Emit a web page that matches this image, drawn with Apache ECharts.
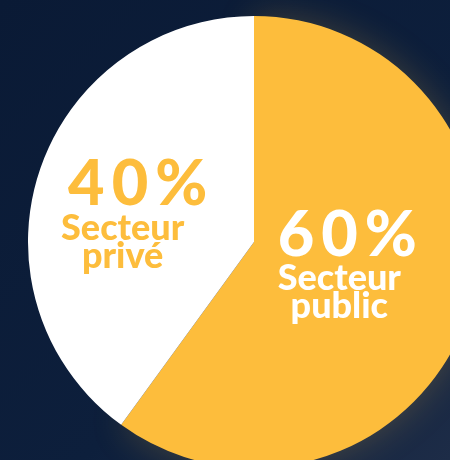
<!DOCTYPE html>
<html>
<head>
<meta charset="utf-8">
<script src="https://cdn.jsdelivr.net/npm/echarts@6/dist/echarts.min.js"></script>
<style>
  html, body { margin: 0; padding: 0; background: #0c1c38; }
  #chart { width: 450px; height: 460px; }
</style>
</head>
<body>
<div id="chart"></div>
<script>
// Répartition secteur public / secteur privé
const sectors = ['Secteur\npublic', 'Secteur\nprivé'];
const shares = [60, 40];

const YELLOW = '#fdbd3c';
const WHITE = '#ffffff';
const sliceColors = [YELLOW, WHITE];
const labelColors = [WHITE, YELLOW];
// nudges applied to the inside labels (px) and left pad of the percentage line
const labelNudge = [[-25, -14], [-21, 7]];
const pctPad = [16, 30];

const chart = echarts.init(document.getElementById('chart'), null, { renderer: 'canvas' });

const data = sectors.map((name, i) => {
  const pctStyle = {
    fontFamily: 'Lato', fontWeight: 900, fontSize: 63,
    color: labelColors[i], lineHeight: 58
  };
  return {
    name,
    value: shares[i],
    itemStyle: {
      color: sliceColors[i],
      shadowColor: i === 0 ? 'rgba(253,189,60,0.22)' : 'rgba(0,0,0,0)',
      shadowBlur: i === 0 ? 36 : 0
    },
    label: {
      rich: {
        pad: Object.assign({}, pctStyle, { padding: [0, 0, 0, pctPad[i]] }),
        c: Object.assign({}, pctStyle, { padding: [0, 7, 0, 0] }),
        last: pctStyle,
        txt: {
          fontFamily: 'Lato', fontWeight: 900, fontSize: 36,
          color: labelColors[i], lineHeight: 28
        }
      }
    }
  };
});

chart.setOption({
  backgroundColor: {
    type: 'linear', x: 0, y: 0, x2: 1, y2: 1,
    colorStops: [
      { offset: 0, color: '#0a1a35' },
      { offset: 0.6, color: '#0d1f3c' },
      { offset: 1, color: '#1d2c47' }
    ]
  },
  animation: false,
  series: [{
    type: 'pie',
    center: [254, 242],
    radius: 226,
    startAngle: 90,
    clockwise: true,
    silent: true,
    data,
    label: {
      show: true,
      position: 'inside',
      align: 'center',
      formatter: (p) => {
        const chars = (p.value + '%').split('');
        const pct = '{pad|}' + chars.map((ch, k) =>
          (k < chars.length - 1 ? '{c|' : '{last|') + ch + '}').join('');
        const lines = p.name.split('\n').map(s => '{txt|' + s + '}').join('\n');
        return pct + '\n' + lines;
      }
    },
    labelLine: { show: false },
    labelLayout: (params) => ({
      dx: labelNudge[params.dataIndex][0],
      dy: labelNudge[params.dataIndex][1]
    })
  }]
});
</script>
</body>
</html>
